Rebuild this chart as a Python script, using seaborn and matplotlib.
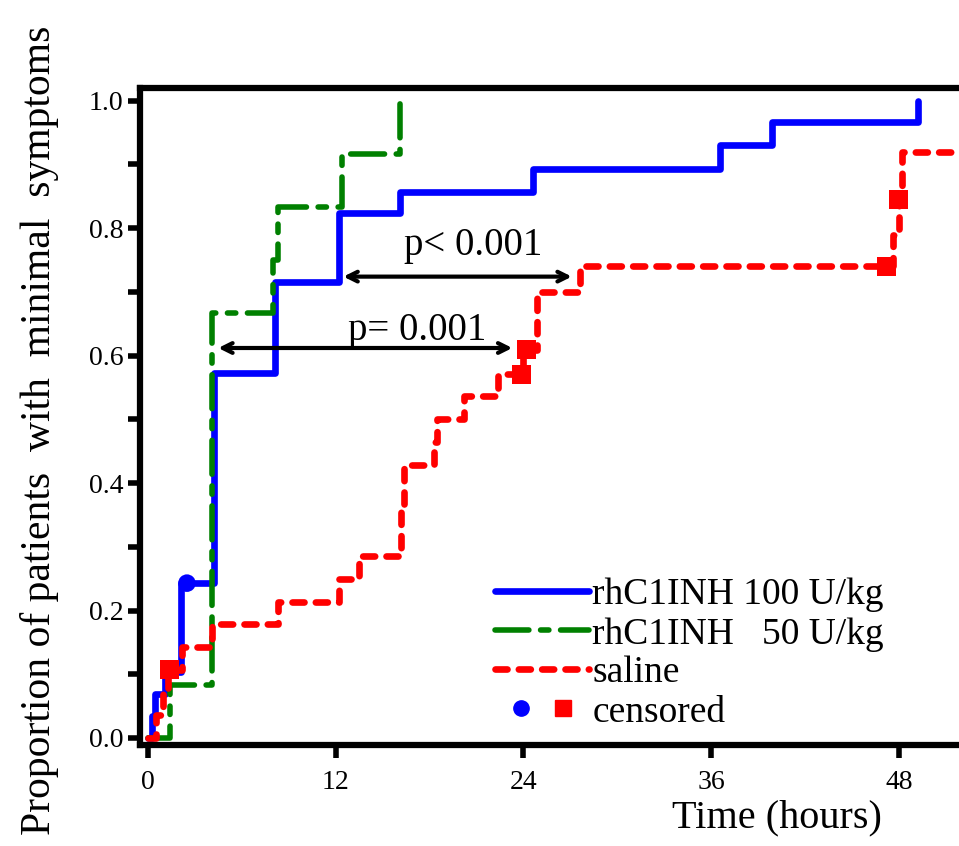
import numpy as np
import pandas as pd
import matplotlib
matplotlib.use('Agg')
import matplotlib.pyplot as plt
import seaborn as sns
from matplotlib.lines import Line2D
from matplotlib.legend_handler import HandlerTuple
from matplotlib.ticker import MultipleLocator, FormatStrFormatter

# step times (hours) and proportion reached at each step
t_100 = [0, 0.25, 0.45, 1.1, 2.1, 4.2, 8.1, 12.2, 16.1, 24.6, 36.6, 39.9, 49.2]
p_100 = [0, 0.034, 0.069, 0.103, 0.243, 0.572, 0.716, 0.824, 0.857, 0.893, 0.931, 0.966, 1.0]

t_50 = [0, 1.4, 4.1, 8.0, 8.3, 12.4, 16.1]
p_50 = [0, 0.083, 0.667, 0.75, 0.833, 0.917, 1.0]

t_sal = [0, 0.55, 1.0, 1.3, 2.2, 4.1, 8.3, 12.2, 13.5, 16.2, 16.4, 18.3, 18.5, 20.2,
         22.4, 24.0, 24.9, 27.6, 47.6, 48.0, 48.2, 53.0]
p_sal = [0, 0.036, 0.071, 0.107, 0.143, 0.179, 0.214, 0.25, 0.286, 0.357, 0.429, 0.464,
         0.50, 0.536, 0.571, 0.609, 0.70, 0.74, 0.79, 0.845, 0.92, 0.92]

# censored observations
cens_100_t = [2.5]
cens_100_p = [0.243]
cens_sal_t = [1.4, 23.9, 24.2, 47.2, 48.0]
cens_sal_p = [0.107, 0.571, 0.609, 0.74, 0.845]

labels = ['rhC1INH 100 U/kg', 'rhC1INH   50 U/kg', 'saline', 'censored']
xticks = [0, 12, 24, 36, 48]

sns.set_style('ticks')
plt.rcParams['font.family'] = ['Liberation Serif', 'DejaVu Serif']
for k in ['text.color', 'axes.labelcolor', 'xtick.color', 'ytick.color', 'axes.edgecolor']:
    plt.rcParams[k] = 'black'

fig = plt.figure(figsize=(9.59, 8.46), dpi=100)
ax = fig.add_axes([140 / 959, 101 / 846, 837 / 959, 657 / 846])

blue_kw = dict(color='#0000FF', lw=4.8, solid_capstyle='round')
green_kw = dict(color='#008000', lw=4.0, linestyle=(0, (6.1, 2.1, 1.5, 2.1)),
                dash_capstyle='round')
red_kw = dict(color='#FF0000', lw=4.8, linestyle=(0, (1.8, 1.7)), dash_capstyle='round')

sns.lineplot(x=t_100, y=p_100, drawstyle='steps-post', estimator=None, sort=False,
             ax=ax, legend=False, **blue_kw)
sns.lineplot(x=t_50, y=p_50, drawstyle='steps-post', estimator=None, sort=False,
             ax=ax, legend=False, **green_kw)
sns.lineplot(x=t_sal, y=p_sal, drawstyle='steps-post', estimator=None, sort=False,
             ax=ax, legend=False, **red_kw)

sns.scatterplot(x=cens_100_t, y=cens_100_p, marker='o', s=160, color='#0000FF',
                edgecolor='none', ax=ax, zorder=5)
sns.scatterplot(x=cens_sal_t, y=cens_sal_p, marker='s', s=190, color='#FF0000',
                edgecolor='none', ax=ax, zorder=5)

# comparison arrows
arrow = dict(arrowstyle='<->,head_length=0.7,head_width=0.35', lw=3.0, color='black',
             shrinkA=0, shrinkB=0)
ax.annotate('', xy=(12.5, 0.724), xytext=(27.1, 0.724), arrowprops=arrow)
ax.annotate('', xy=(4.5, 0.612), xytext=(23.3, 0.612), arrowprops=arrow)
ax.text(20.8, 0.758, 'p< 0.001', ha='center', va='baseline', fontsize=28)
ax.text(17.2, 0.625, 'p= 0.001', ha='center', va='baseline', fontsize=28)

ax.set_xlim(-0.5, 53.0)
ax.set_ylim(-0.011, 1.02)
ax.set_xticks(xticks)
ax.set_yticks(np.arange(0, 1.01, 0.2))
ax.yaxis.set_minor_locator(MultipleLocator(0.1))
ax.yaxis.set_major_formatter(FormatStrFormatter('%.1f'))
ax.tick_params(axis='both', which='both', direction='out', length=9, width=4,
               color='black', labelsize=20)
ax.tick_params(axis='x', pad=9)
ax.tick_params(axis='y', pad=3)
for side in ['left', 'bottom', 'top']:
    ax.spines[side].set_linewidth(4.5)
    ax.spines[side].set_color('black')
ax.spines['right'].set_visible(False)
ax.set_xlabel('')
ax.set_ylabel('')

fig.text(777 / 959, 1 - 818 / 846, 'Time (hours)', ha='center', va='center', fontsize=29)
fig.text(40 / 959, 1 - 430 / 846, 'Proportion of patients  with  minimal  symptoms',
         ha='center', va='center', rotation=90, fontsize=30)

handles = [
    Line2D([], [], **blue_kw),
    Line2D([], [], **green_kw),
    Line2D([], [], **red_kw),
    (Line2D([], [], marker='o', ms=11, color='#0000FF', ls='none'),
     Line2D([], [], marker='s', ms=11, color='#FF0000', ls='none')),
]
ax.legend(handles, labels, loc='upper left', bbox_to_anchor=(495 / 959, 1 - 578 / 846),
          bbox_transform=fig.transFigure, frameon=False, fontsize=27, borderpad=0,
          borderaxespad=0, handlelength=2.5, handletextpad=0.1, labelspacing=0.12,
          handler_map={tuple: HandlerTuple(ndivide=None, pad=-0.3)})

fig.savefig('out.png', dpi=100)
